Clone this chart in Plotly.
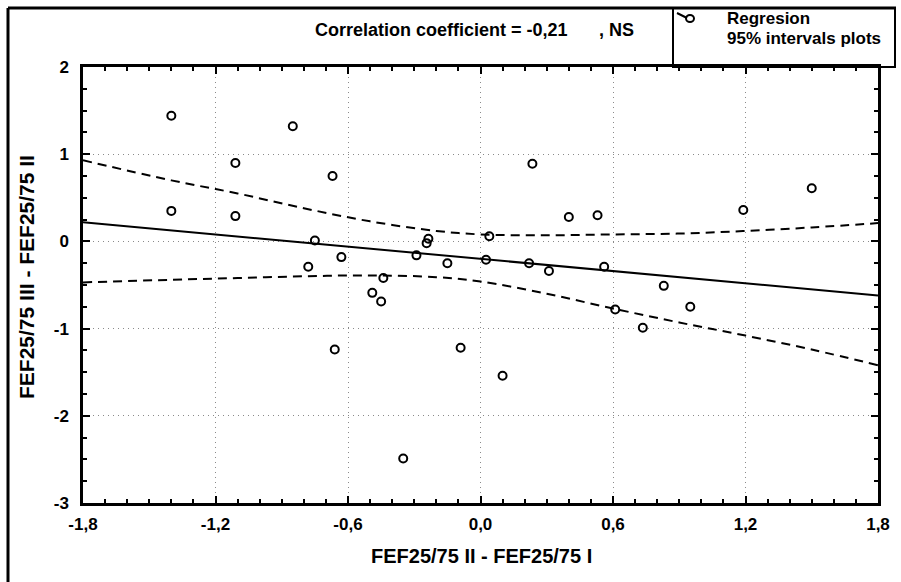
import plotly.graph_objects as go

# ---------------- data ----------------
x_vals = [-1.40, -1.40, -1.11, -1.11, -0.85, -0.67, -0.75, -0.78, -0.63, -0.66,
          -0.49, -0.45, -0.44, -0.35, -0.29, -0.236, -0.244, -0.15, -0.09, 0.025,
          0.04, 0.10, 0.22, 0.235, 0.31, 0.40, 0.53, 0.56, 0.61, 0.735,
          0.83, 0.95, 1.19, 1.50]
y_vals = [1.44, 0.35, 0.90, 0.29, 1.32, 0.75, 0.01, -0.29, -0.18, -1.24,
          -0.59, -0.69, -0.42, -2.49, -0.16, 0.03, -0.02, -0.25, -1.22, -0.21,
          0.06, -1.54, -0.25, 0.89, -0.34, 0.28, 0.30, -0.29, -0.78, -0.99,
          -0.51, -0.75, 0.36, 0.61]

fit_x = [-1.8, 1.8]
fit_y = [0.22, -0.62]

band_x = [-1.8, -1.4, -1.1, -0.8, -0.5, -0.2, 0.0, 0.3, 0.6, 0.9, 1.2, 1.5, 1.8]
band_upper = [0.93, 0.70, 0.55, 0.38, 0.23, 0.12, 0.08, 0.07, 0.08, 0.09, 0.12, 0.16, 0.21]
band_lower = [-0.47, -0.44, -0.42, -0.40, -0.39, -0.41, -0.46, -0.60, -0.77, -0.93, -1.08, -1.24, -1.42]

x_ticks = [-1.8, -1.2, -0.6, 0.0, 0.6, 1.2, 1.8]
x_tick_labels = ["-1,8", "-1,2", "-0,6", "0,0", "0,6", "1,2", "1,8"]
y_ticks = [2, 1, 0, -1, -2, -3]
y_tick_labels = ["2", "1", "0", "-1", "-2", "-3"]

title_text = "Correlation coefficient = -0,21"
title_suffix = ", NS"
legend_line1 = "Regresion"
legend_line2 = "95% intervals plots"
x_title = "FEF25/75 II - FEF25/75 I"
y_title = "FEF25/75 III - FEF25/75 II"

# ---------------- layout geometry ----------------
W, H = 901, 582
L, R, T, B = 83, 23, 67, 79
PW, PH = W - L - R, H - T - B


def px(x):
    return (x - L) / PW


def py(y):
    return (H - B - y) / PH


FONT = "Liberation Sans, Arial, sans-serif"

fig = go.Figure()

fig.add_trace(go.Scatter(x=band_x, y=band_upper, mode="lines",
                         line=dict(color="black", width=2, dash="9px,6px", shape="spline"),
                         showlegend=False, hoverinfo="skip"))
fig.add_trace(go.Scatter(x=band_x, y=band_lower, mode="lines",
                         line=dict(color="black", width=2, dash="9px,6px", shape="spline"),
                         showlegend=False, hoverinfo="skip"))
fig.add_trace(go.Scatter(x=fit_x, y=fit_y, mode="lines",
                         line=dict(color="black", width=2),
                         showlegend=False, hoverinfo="skip"))
fig.add_trace(go.Scatter(x=x_vals, y=y_vals, mode="markers",
                         marker=dict(symbol="circle-open", size=8, color="black",
                                     line=dict(width=2, color="black")),
                         showlegend=False))

axis_common = dict(
    showline=True, linewidth=2.5, linecolor="black", mirror="allticks",
    ticks="inside", ticklen=7, tickwidth=1.5, tickcolor="black",
    showgrid=True, gridcolor="#8a8a8a", gridwidth=1, griddash="1px,4px",
    zeroline=False,
    tickfont=dict(family=FONT, size=17, color="black", weight="bold"),
)

fig.update_xaxes(range=[-1.8, 1.8], tickmode="array", tickvals=x_ticks,
                 ticktext=x_tick_labels, ticklabelstandoff=4,
                 minor=dict(ticks="inside", ticklen=4, tickwidth=1.5, tickcolor="black",
                            dtick=0.1, tick0=0, showgrid=False),
                 **axis_common)
fig.update_yaxes(range=[-3, 2], tickmode="array", tickvals=y_ticks,
                 ticktext=y_tick_labels, ticklabelstandoff=8,
                 minor=dict(ticks="inside", ticklen=4, tickwidth=1.5, tickcolor="black",
                            dtick=0.25, tick0=0, showgrid=False),
                 **axis_common)

shapes = [
    # outer frame (top and left)
    dict(type="line", xref="paper", yref="paper", x0=px(8), y0=py(8), x1=px(896), y1=py(8),
         line=dict(color="black", width=3)),
    dict(type="line", xref="paper", yref="paper", x0=px(8), y0=py(8), x1=px(8), y1=py(585),
         line=dict(color="black", width=3)),
    # legend box
    dict(type="rect", xref="paper", yref="paper", x0=px(673), y0=py(8), x1=px(895), y1=py(67),
         line=dict(color="black", width=2), fillcolor="rgba(0,0,0,0)"),
    # legend icon
    dict(type="line", xref="paper", yref="paper", x0=px(677), y0=py(13), x1=px(687), y1=py(18),
         line=dict(color="black", width=2)),
    dict(type="circle", xref="paper", yref="paper", x0=px(686), y0=py(15), x1=px(694), y1=py(22),
         line=dict(color="black", width=2)),
]

annotations = [
    dict(text=title_text, xref="paper", yref="paper", x=px(313), y=py(30),
         xanchor="left", yanchor="middle", showarrow=False,
         font=dict(family=FONT, size=18, color="black", weight="bold")),
    dict(text=title_suffix, xref="paper", yref="paper", x=px(597), y=py(30),
         xanchor="left", yanchor="middle", showarrow=False,
         font=dict(family=FONT, size=18, color="black", weight="bold")),
    dict(text=legend_line1, xref="paper", yref="paper", x=px(725), y=py(18),
         xanchor="left", yanchor="middle", showarrow=False,
         font=dict(family=FONT, size=17, color="black", weight="bold")),
    dict(text=legend_line2, xref="paper", yref="paper", x=px(725), y=py(39),
         xanchor="left", yanchor="middle", showarrow=False,
         font=dict(family=FONT, size=17, color="black", weight="bold")),
    dict(text=x_title, xref="paper", yref="paper", x=px(481), y=py(556),
         xanchor="center", yanchor="middle", showarrow=False,
         font=dict(family=FONT, size=20, color="black", weight="bold")),
    dict(text=y_title, xref="paper", yref="paper", x=px(26), y=py(277),
         xanchor="center", yanchor="middle", showarrow=False, textangle=-90,
         font=dict(family=FONT, size=21, color="black", weight="bold")),
]

fig.update_layout(
    width=W, height=H, autosize=False,
    margin=dict(l=L, r=R, t=T, b=B, pad=0),
    paper_bgcolor="white", plot_bgcolor="white",
    showlegend=False,
    shapes=shapes, annotations=annotations,
)

fig.write_html("out.html")
